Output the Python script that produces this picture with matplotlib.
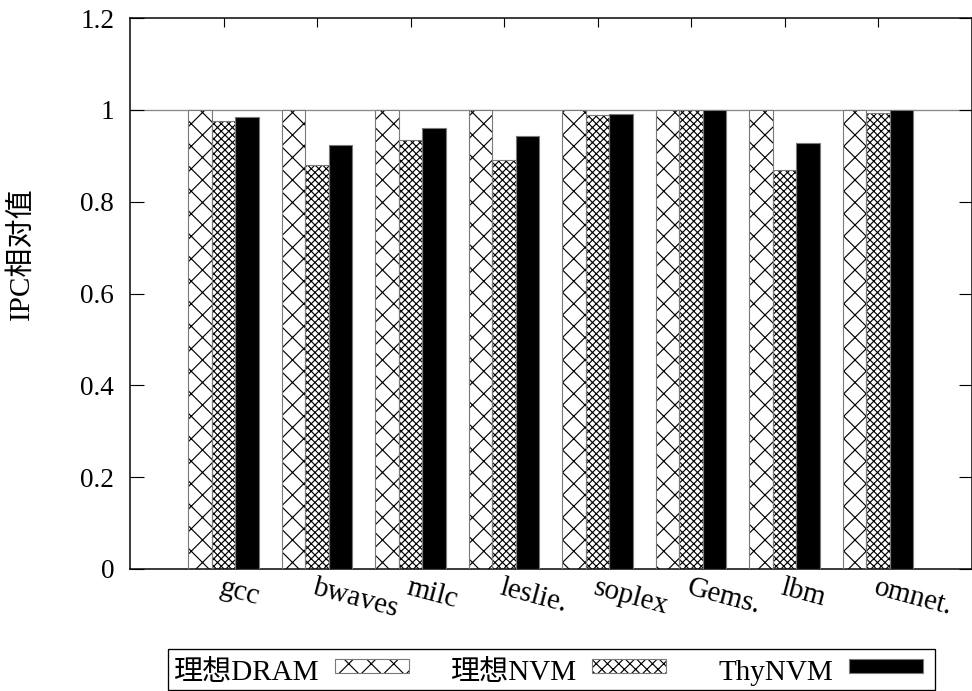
import matplotlib
matplotlib.use("Agg")
import matplotlib.pyplot as plt
from matplotlib.patches import Rectangle
import numpy as np

# Benchmarks and normalised IPC for each memory configuration
benchmarks = ["gcc", "bwaves", "milc", "leslie.", "soplex", "Gems.", "lbm", "omnet."]
ideal_dram = [1.0, 1.0, 1.0, 1.0, 1.0, 1.0, 1.0, 1.0]
ideal_nvm = [0.975, 0.880, 0.934, 0.891, 0.988, 1.0, 0.869, 0.993]
thynvm = [0.985, 0.923, 0.961, 0.943, 0.992, 1.0, 0.927, 1.0]

series_names = ["理想DRAM", "理想NVM", "ThyNVM"]
y_ticks = [0, 0.2, 0.4, 0.6, 0.8, 1.0, 1.2]
y_tick_labels = ["0", "0.2", "0.4", "0.6", "0.8", "1", "1.2"]

W, H, DPI = 972, 691, 135
plt.rcParams["font.family"] = ["Liberation Serif", "Noto Sans CJK SC", "DejaVu Sans"]
plt.rcParams["hatch.color"] = "black"
plt.rcParams["hatch.linewidth"] = 0.62

fig = plt.figure(figsize=(W / DPI, H / DPI), dpi=DPI)


def fx(x):
    return x / W


def fy(y):
    return 1 - y / H


ax = fig.add_axes([fx(130), fy(569), fx(971.5) - fx(130), fy(18) - fy(569)])

x = np.arange(len(benchmarks))
bw = 0.25
edge_grey = "#7a7a7a"
styles = [
    dict(color="white", hatch="xx"),
    dict(color="white", hatch="xxxxxx"),
    dict(color="black", hatch=None),
]
for i, (vals, st) in enumerate(zip([ideal_dram, ideal_nvm, thynvm], styles)):
    pos = x + (i - 1) * bw
    # fill + hatch layer
    ax.bar(pos, vals, bw, color=st["color"], edgecolor="black", linewidth=0,
           hatch=st["hatch"], zorder=2)
    # outline layer
    ax.bar(pos, vals, bw, fill=False, edgecolor=edge_grey, linewidth=0.6, zorder=3)

ax.axhline(1.0, color="#8a8a8a", linewidth=0.7, zorder=1)

ax.set_xlim(-1, 8)
ax.set_ylim(0, 1.2)
ax.set_yticks(y_ticks)
ax.set_yticklabels(y_tick_labels, fontsize=14.5)
ax.tick_params(axis="y", direction="in", length=7.2, width=0.6, right=True,
               pad=8.5, colors="black")

ax.set_xticks(x)
ax.set_xticklabels(benchmarks, fontsize=15.5, rotation=-15, ha="left", va="top",
                   rotation_mode="anchor")
ax.tick_params(axis="x", direction="in", length=5.0, width=0.6, top=True,
               bottom=True, pad=3)
for t in ax.xaxis.get_major_ticks():
    t.tick1line.set_visible(False)
    t.label1.set_x(t.get_loc() + 0.02)

for s in ax.spines.values():
    s.set_linewidth(0.8)
    s.set_color("black")

fig.text(fx(21), fy(254), "IPC相对值", rotation=90, ha="center", va="center",
         fontsize=15.5)

# Legend box along the bottom of the figure
fig.add_artist(Rectangle((fx(168), fy(690)), fx(935) - fx(168), fy(649) - fy(690),
                         transform=fig.transFigure, fill=False, edgecolor="black",
                         linewidth=0.7))
swatch_left = [335, 592, 849]
swatch_styles = [
    dict(facecolor="white", hatch="xx"),
    dict(facecolor="white", hatch="xxxx"),
    dict(facecolor="black", hatch=None),
]
for name, sx, st in zip(series_names, swatch_left, swatch_styles):
    fig.text(fx(sx - 16), fy(680), name, ha="right", va="baseline", fontsize=15.5)
    fig.add_artist(Rectangle((fx(sx), fy(673)), fx(sx + 74) - fx(sx), fy(659) - fy(673),
                             transform=fig.transFigure, facecolor=st["facecolor"],
                             edgecolor="black", linewidth=0, hatch=st["hatch"]))
    fig.add_artist(Rectangle((fx(sx), fy(673)), fx(sx + 74) - fx(sx), fy(659) - fy(673),
                             transform=fig.transFigure, fill=False,
                             edgecolor=edge_grey, linewidth=0.6))

fig.savefig("out.png", dpi=DPI)
